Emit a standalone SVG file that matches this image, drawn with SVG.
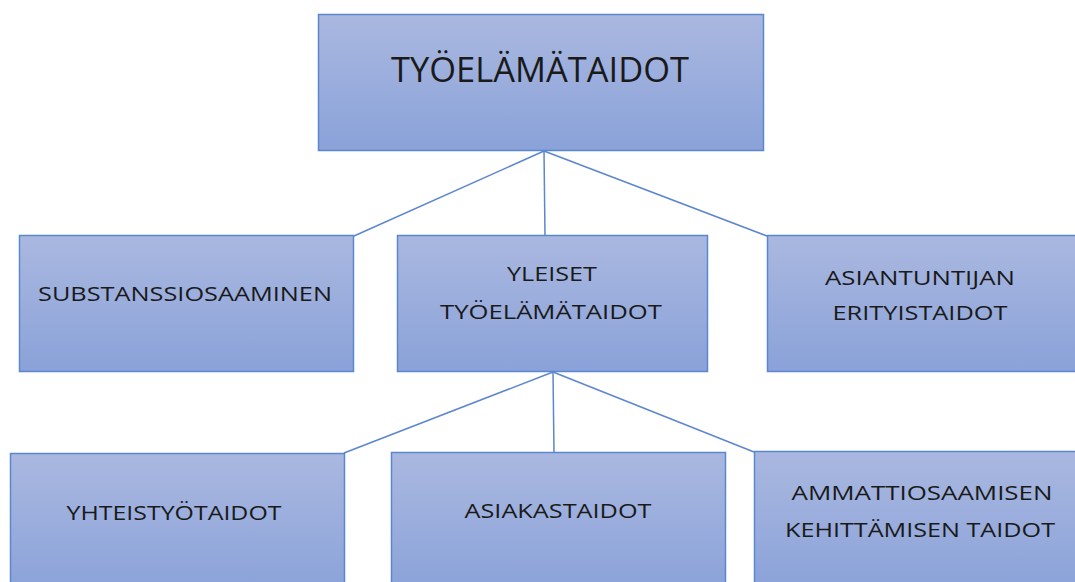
<svg xmlns="http://www.w3.org/2000/svg" width="1075" height="582" viewBox="0 0 1075 582">
<defs>
<linearGradient id="g" x1="0" y1="0" x2="0" y2="1">
<stop offset="0" stop-color="#aab8e0"/>
<stop offset="1" stop-color="#8aa2d9"/>
</linearGradient>
<style>
.box{fill:url(#g);stroke:#5b86d0;stroke-width:1.5}
.lbl{font-family:"Open Sans","Liberation Sans",sans-serif;fill:#1a1a1a;text-anchor:middle}
.s{font-size:19.5px}
.big{font-size:35px}
.con line{stroke:#5b86d0;stroke-width:1.5}
</style>
</defs>
<rect width="1075" height="582" fill="#ffffff"/>
<g class="con">
<line x1="544" y1="151" x2="354" y2="236"/>
<line x1="544" y1="151" x2="545" y2="236"/>
<line x1="544" y1="151" x2="767" y2="236"/>
<line x1="553" y1="372" x2="344" y2="453"/>
<line x1="553" y1="372" x2="554" y2="453"/>
<line x1="553" y1="372" x2="754" y2="452"/>
</g>
<g id="root">
<rect class="box" x="318.5" y="14.5" width="445" height="136"/>
<text class="lbl big" x="540" y="82" textLength="298" lengthAdjust="spacingAndGlyphs">TYÖELÄMÄTAIDOT</text>
</g>
<g id="substanssi">
<rect class="box" x="19.5" y="235.5" width="334" height="136"/>
<text class="lbl s" x="185" y="301" textLength="294" lengthAdjust="spacingAndGlyphs">SUBSTANSSIOSAAMINEN</text>
</g>
<g id="yleiset">
<rect class="box" x="397.5" y="235.5" width="310" height="136"/>
<text class="lbl s" x="552" y="281" textLength="90" lengthAdjust="spacingAndGlyphs">YLEISET</text>
<text class="lbl s" x="551" y="319" textLength="222" lengthAdjust="spacingAndGlyphs">TYÖELÄMÄTAIDOT</text>
</g>
<g id="asiantuntijan">
<rect class="box" x="767.5" y="235.5" width="320" height="136"/>
<text class="lbl s" x="920" y="285" textLength="190" lengthAdjust="spacingAndGlyphs">ASIANTUNTIJAN</text>
<text class="lbl s" x="920" y="320" textLength="175" lengthAdjust="spacingAndGlyphs">ERITYISTAIDOT</text>
</g>
<g id="yhteistyo">
<rect class="box" x="10.5" y="453.5" width="334" height="140"/>
<text class="lbl s" x="174" y="520" textLength="215" lengthAdjust="spacingAndGlyphs">YHTEISTYÖTAIDOT</text>
</g>
<g id="asiakas">
<rect class="box" x="391.5" y="452.5" width="334" height="140"/>
<text class="lbl s" x="558" y="518" textLength="187" lengthAdjust="spacingAndGlyphs">ASIAKASTAIDOT</text>
</g>
<g id="ammatti">
<rect class="box" x="754.5" y="451.5" width="340" height="140"/>
<text class="lbl s" x="922" y="500" textLength="261" lengthAdjust="spacingAndGlyphs">AMMATTIOSAAMISEN</text>
<text class="lbl s" x="920" y="537" textLength="270" lengthAdjust="spacingAndGlyphs">KEHITTÄMISEN TAIDOT</text>
</g>
</svg>
